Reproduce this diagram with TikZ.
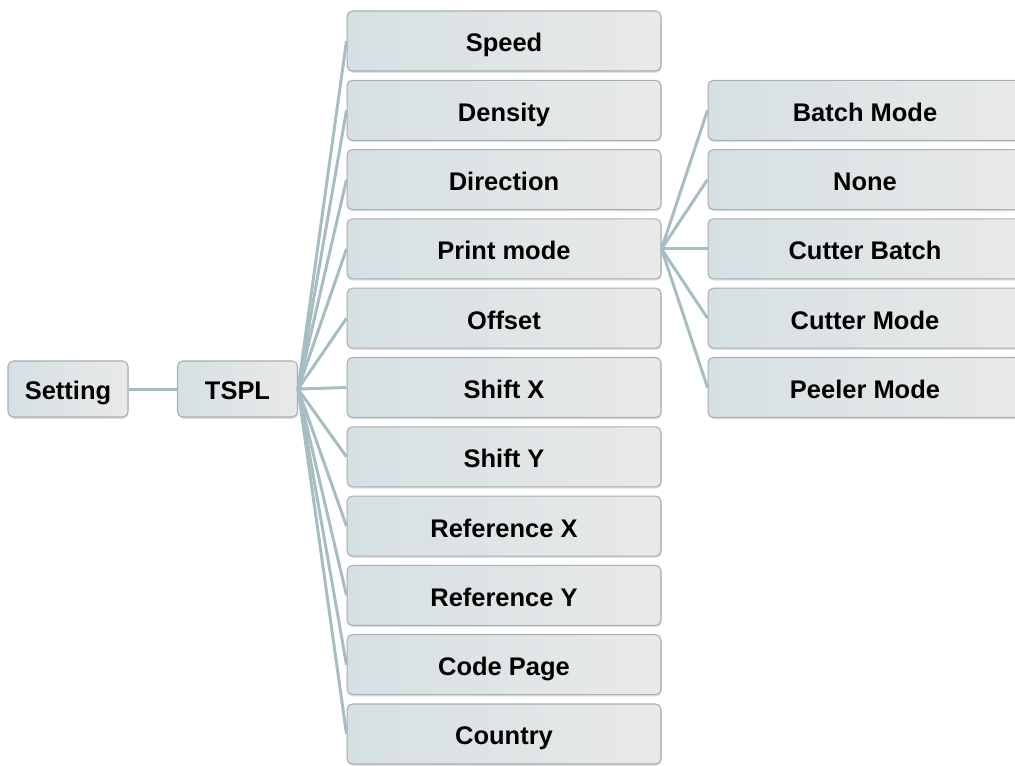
\documentclass[tikz,border=0pt]{standalone}
\usepackage{fontspec}
\setmainfont{Liberation Sans}
\usetikzlibrary{shadows}

\definecolor{linkcol}{HTML}{A6BEC1}
\definecolor{boxleft}{HTML}{D6E0E3}
\definecolor{boxright}{HTML}{E9E9E9}
\definecolor{boxedge}{HTML}{A9AEB0}

\tikzset{
  menubox/.style={draw=boxedge,line width=0.6pt,rounded corners=3pt,
    left color=boxleft,right color=boxright,inner sep=0pt,
    text height=12.4pt,text depth=0pt,
    font=\fontsize{14.5}{17}\selectfont\bfseries,
    drop shadow={shadow xshift=0.4pt,shadow yshift=-1pt,opacity=0.25}},
  rootbox/.style={menubox,minimum width=2.4cm,minimum height=1.12cm},
  itembox/.style={menubox,minimum width=6.28cm,minimum height=1.2cm},
  link/.style={draw=linkcol,line width=1.7pt}
}

\begin{document}
\begin{tikzpicture}[x=0.02cm,y=-0.02cm]
  \useasboundingbox (0,0) rectangle (1015,765);
  \clip (0,0) rectangle (1015,765);

  % left part
  \node[rootbox] (setting) at (68,389)  {Setting};
  \node[rootbox] (tspl)    at (237.5,389) {TSPL};

  % TSPL items
  \node[itembox] (speed)     at (504,41)    {Speed};
  \node[itembox] (density)   at (504,110.3) {Density};
  \node[itembox] (direction) at (504,179.6) {Direction};
  \node[itembox] (printmode) at (504,248.9) {Print mode};
  \node[itembox] (offset)    at (504,318.2) {Offset};
  \node[itembox] (shiftx)    at (504,387.5) {Shift X};
  \node[itembox] (shifty)    at (504,456.8) {Shift Y};
  \node[itembox] (refx)      at (504,526.1) {Reference X};
  \node[itembox] (refy)      at (504,595.4) {Reference Y};
  \node[itembox] (codepage)  at (504,664.7) {Code Page};
  \node[itembox] (country)   at (504,734)   {Country};

  % print mode items
  \node[itembox] (batch)    at (865,110.3) {Batch Mode};
  \node[itembox] (none)     at (865,179.6) {None};
  \node[itembox] (cutbatch) at (865,248.9) {Cutter Batch};
  \node[itembox] (cutmode)  at (865,318.2) {Cutter Mode};
  \node[itembox] (peeler)   at (865,387.5) {Peeler Mode};

  \draw[link] (setting.east) -- (tspl.west);
  \foreach \n in {speed,density,direction,printmode,offset,shiftx,shifty,refx,refy,codepage,country}
    \draw[link] (tspl.east) -- (\n.west);
  \foreach \n in {batch,none,cutbatch,cutmode,peeler}
    \draw[link] (printmode.east) -- (\n.west);
\end{tikzpicture}
\end{document}
